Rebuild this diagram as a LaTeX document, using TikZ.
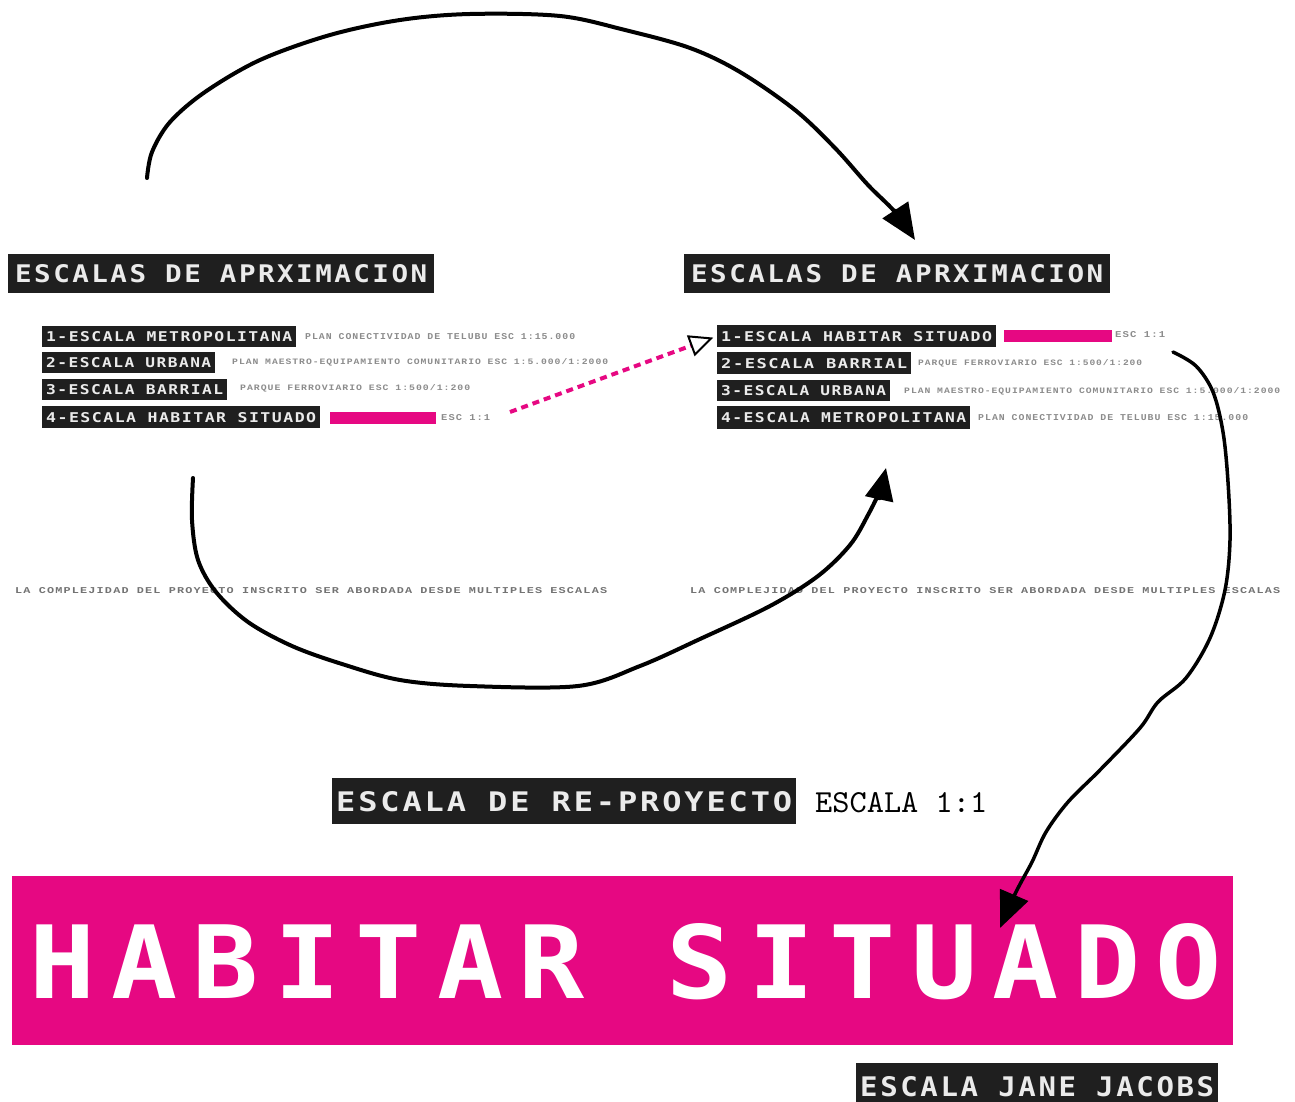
\documentclass[tikz,border=0pt]{standalone}
\usepackage{fontspec}
\usepackage{graphicx}
\usetikzlibrary{arrows.meta}
\newfontfamily\monob[LetterSpace=9]{DejaVu Sans Mono}
\newfontfamily\monobig[LetterSpace=14]{DejaVu Sans Mono}
\newfontfamily\monor[LetterSpace=10]{Liberation Mono}
\definecolor{hpink}{RGB}{230,8,130}
\newcommand\labtxt[3]{\resizebox{#1pt}{#2pt}{\monob\bfseries #3}}
\newcommand\smtxt[3]{\resizebox{#1pt}{#2pt}{\monor\bfseries #3}}
\tikzset{
  blk/.style={fill=black!88, text=white!92!black, inner sep=0pt, anchor=north west},
  pbar/.style={fill=hpink, inner sep=0pt, anchor=north west},
  smalltext/.style={text=black!45, inner sep=0pt, anchor=west},
  curve/.style={line width=4pt, line cap=round, line join=round},
  bigtip/.style={-{Triangle[length=36pt,width=30pt]}},
}
\begin{document}
\begin{tikzpicture}[x=1pt,y=-1pt]
\useasboundingbox (0,0) rectangle (1295,1102);

% headers
\node[blk, minimum width=426pt, minimum height=39pt] (hl) at (8,254) {\labtxt{412}{18}{ESCALAS DE APRXIMACION}};
\node[blk, minimum width=426pt, minimum height=39pt] (hr) at (684,254) {\labtxt{412}{18}{ESCALAS DE APRXIMACION}};

% left list
\node[blk, minimum width=254pt, minimum height=21pt] (l1) at (42,326) {\labtxt{246}{10}{1-ESCALA METROPOLITANA}};
\node[blk, minimum width=173pt, minimum height=21pt] (l2) at (42,352) {\labtxt{165}{10}{2-ESCALA URBANA}};
\node[blk, minimum width=185pt, minimum height=21pt] (l3) at (42,379) {\labtxt{177}{10}{3-ESCALA BARRIAL}};
\node[blk, minimum width=278pt, minimum height=22pt] (l4) at (42,406) {\labtxt{270}{10}{4-ESCALA HABITAR SITUADO}};
\node[smalltext] (l1t) at (305,337) {\smtxt{270}{6}{PLAN CONECTIVIDAD DE TELUBU ESC 1:15.000}};
\node[smalltext] (l2t) at (232,362) {\smtxt{376}{6}{PLAN MAESTRO-EQUIPAMIENTO COMUNITARIO ESC 1:5.000/1:2000}};
\node[smalltext] (l3t) at (240,388) {\smtxt{230}{6}{PARQUE FERROVIARIO ESC 1:500/1:200}};
\node[pbar, minimum width=106pt, minimum height=12pt] (l4p) at (330,412) {};
\node[smalltext] (l4t) at (441,418) {\smtxt{49}{6}{ESC 1:1}};

% right list
\node[blk, minimum width=279pt, minimum height=22pt] (r1) at (717,325) {\labtxt{271}{10}{1-ESCALA HABITAR SITUADO}};
\node[blk, minimum width=194pt, minimum height=22pt] (r2) at (717,352) {\labtxt{186}{10}{2-ESCALA BARRIAL}};
\node[blk, minimum width=173pt, minimum height=21pt] (r3) at (717,380) {\labtxt{165}{10}{3-ESCALA URBANA}};
\node[blk, minimum width=253pt, minimum height=23pt] (r4) at (717,406) {\labtxt{245}{10}{4-ESCALA METROPOLITANA}};
\node[pbar, minimum width=108pt, minimum height=12pt] (r1p) at (1004,330) {};
\node[smalltext] (r1t) at (1115,335) {\smtxt{50}{6}{ESC 1:1}};
\node[smalltext] (r2t) at (918,363) {\smtxt{224}{6}{PARQUE FERROVIARIO ESC 1:500/1:200}};
\node[smalltext] (r3t) at (904,391) {\smtxt{376}{6}{PLAN MAESTRO-EQUIPAMIENTO COMUNITARIO ESC 1:5.000/1:2000}};
\node[smalltext] (r4t) at (978,418) {\smtxt{270}{6}{PLAN CONECTIVIDAD DE TELUBU ESC 1:15.000}};

% bottom sentences
\node[smalltext, text=black!55] (bl) at (15,591) {\smtxt{592}{6}{LA COMPLEJIDAD DEL PROYECTO INSCRITO SER ABORDADA DESDE MULTIPLES ESCALAS}};
\node[smalltext, text=black!55] (br) at (690,591) {\smtxt{590}{6}{LA COMPLEJIDAD DEL PROYECTO INSCRITO SER ABORDADA DESDE MULTIPLES ESCALAS}};

% re-proyecto
\node[blk, minimum width=464pt, minimum height=46pt] (rp) at (332,778) {\labtxt{456}{20}{ESCALA DE RE-PROYECTO}};
\node[inner sep=0pt, anchor=west] (e11) at (815,803) {\resizebox{172pt}{20pt}{\ttfamily ESCALA 1:1}};

% habitar situado
\node[fill=hpink, inner sep=0pt, anchor=north west, minimum width=1221pt, minimum height=169pt] (hs) at (12,876) {};
\node[text=white, inner sep=0pt] (hst) at (626,962) {\resizebox{1192pt}{75pt}{\monobig\bfseries HABITAR SITUADO}};

% jane jacobs
\node[blk, minimum width=362pt, minimum height=46pt] (jj) at (856,1063) {\labtxt{354}{20}{ESCALA JANE JACOBS}};

% connectors
\coordinate (ts) at (147,178);
\coordinate (te) at (915,240);
\draw[curve, bigtip] plot[smooth, tension=0.55] coordinates {(ts) (152,152) (170,122) (205,92) (260,60) (330,35) (400,20) (470,14) (560,16) (625,30) (690,48) (740,72) (795,110) (835,148) (868,185) (895,212) (te)};

\coordinate (bs) at (193,478);
\coordinate (be) at (886,468);
\draw[curve, -{Triangle[length=32pt,width=28pt]}] plot[smooth, tension=0.55] coordinates {(bs) (192,520) (198,560) (216,592) (248,622) (292,646) (342,664) (400,680) (470,686) (578,686) (640,666) (700,639) (770,606) (818,576) (850,545) (868,515) (880,490) (be)};

\coordinate (rs) at (1173,352);
\coordinate (re) at (1000,928);
\draw[curve, line width=3.5pt, bigtip] plot[smooth, tension=0.55] coordinates {(rs) (1196,366) (1213,392) (1223,432) (1228,482) (1230,540) (1225,590) (1210,638) (1186,678) (1158,702) (1140,728) (1100,770) (1068,802) (1046,832) (1032,862) (1016,892) (re)};

\coordinate (ds) at (510,412);
\draw[hpink, line width=4pt, dash pattern=on 7pt off 5pt, -{Triangle[open, length=24pt, width=22pt, line width=2pt, black, fill=white]}, shorten >=4pt] (ds) -- (r1.west);
\end{tikzpicture}
\end{document}
